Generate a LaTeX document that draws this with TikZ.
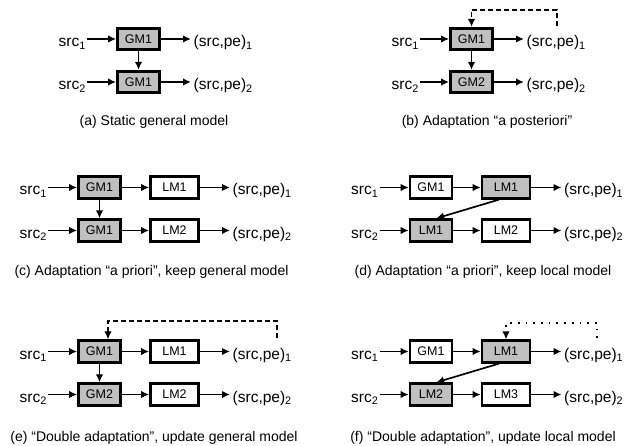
\documentclass[tikz,border=0pt]{standalone}
\usepackage{fontspec}
\setmainfont{Liberation Sans}
\usetikzlibrary{arrows.meta,calc}

\definecolor{boxgray}{RGB}{192,192,192}

\begin{document}
\begin{tikzpicture}[x=1pt,y=-1pt,
  mbox/.style={draw,line width=2.7pt,minimum height=21.5pt,inner sep=0pt,font=\fontsize{12.5}{15}\selectfont},
  stage1/.style={mbox,minimum width=42pt},
  stage2/.style={mbox,minimum width=48pt},
  upd/.style={fill=boxgray},
  lbl/.style={inner ysep=0pt,inner xsep=1pt,font=\fontsize{15.5}{18}\selectfont},
  outlbl/.style={lbl,inner xsep=2.5pt},
  subcap/.style={font=\fontsize{14}{16}\selectfont},
  flow/.style={line width=1.7pt,-{Latex[length=8pt,width=7.5pt]}},
  fb/.style={flow,dash pattern=on 5pt off 3pt},
  fbdot/.style={flow,dash pattern=on 1.7pt off 6pt}]
  \useasboundingbox (0,0) rectangle (628,446);

  % (a) static general model
  \node[stage1,upd] (a-gm1) at (138.5,39) {GM1};
  \node[stage1,upd] (a-gm2) at (138.5,82) {GM1};
  \node[lbl,anchor=base east] (a-src1) at (87,46.5) {src\textsubscript{1}};
  \node[lbl,anchor=base east] (a-src2) at (87,89.5) {src\textsubscript{2}};
  \node[outlbl,anchor=base west] (a-out1) at (191,46.5) {(src,pe)\textsubscript{1}};
  \node[outlbl,anchor=base west] (a-out2) at (191,89.5) {(src,pe)\textsubscript{2}};
  \draw[flow] (a-src1.east |- a-gm1) -- (a-gm1);
  \draw[flow] (a-src2.east |- a-gm2) -- (a-gm2);
  \draw[flow] (a-gm1) -- (a-gm1 -| a-out1.west);
  \draw[flow] (a-gm2) -- (a-gm2 -| a-out2.west);
  \draw[flow] (a-gm1) -- (a-gm2);
  \node[subcap] (a-cap) at (154,122) {(a) Static general model};

  % (b) adaptation a posteriori
  \begin{scope}[shift={(333,0)}]
    \node[stage1,upd] (b-gm1) at (138.5,39) {GM1};
    \node[stage1,upd] (b-gm2) at (138.5,82) {GM2};
    \node[lbl,anchor=base east] (b-src1) at (87,46.5) {src\textsubscript{1}};
    \node[lbl,anchor=base east] (b-src2) at (87,89.5) {src\textsubscript{2}};
    \node[outlbl,anchor=base west] (b-out1) at (191,46.5) {(src,pe)\textsubscript{1}};
    \node[outlbl,anchor=base west] (b-out2) at (191,89.5) {(src,pe)\textsubscript{2}};
    \coordinate (b-fb) at (224,26);
    \coordinate (b-fbtop) at (138.5,10);
    \draw[flow] (b-src1.east |- b-gm1) -- (b-gm1);
    \draw[flow] (b-src2.east |- b-gm2) -- (b-gm2);
    \draw[flow] (b-gm1) -- (b-gm1 -| b-out1.west);
    \draw[flow] (b-gm2) -- (b-gm2 -| b-out2.west);
    \draw[flow] (b-gm1) -- (b-gm2);
    \draw[fb] (b-fb) |- (b-fbtop) -- (b-fbtop |- b-gm1.north);
    \node[subcap] (b-cap) at (154,122) {(b) Adaptation ``a posteriori''};
  \end{scope}

  % (c) a priori, keep general model
  \node[stage1,upd] (c-gm1) at (99.5,187.5) {GM1};
  \node[stage2] (c-lm1) at (174.5,187.5) {LM1};
  \node[stage1,upd] (c-gm2) at (99.5,230.5) {GM1};
  \node[stage2] (c-lm2) at (174.5,230.5) {LM2};
  \node[lbl,anchor=base east] (c-src1) at (48,195) {src\textsubscript{1}};
  \node[lbl,anchor=base east] (c-src2) at (48,238) {src\textsubscript{2}};
  \node[outlbl,anchor=base west] (c-out1) at (230,195) {(src,pe)\textsubscript{1}};
  \node[outlbl,anchor=base west] (c-out2) at (230,238) {(src,pe)\textsubscript{2}};
  \draw[flow] (c-src1.east |- c-gm1) -- (c-gm1);
  \draw[flow] (c-src2.east |- c-gm2) -- (c-gm2);
  \draw[flow] (c-gm1) -- (c-lm1);
  \draw[flow] (c-gm2) -- (c-lm2);
  \draw[flow] (c-lm1) -- (c-lm1 -| c-out1.west);
  \draw[flow] (c-lm2) -- (c-lm2 -| c-out2.west);
  \draw[flow] (c-gm1) -- (c-gm2);
  \node[subcap] (c-cap) at (151.5,272) {(c) Adaptation ``a priori'', keep general model};

  % (d) a priori, keep local model
  \begin{scope}[shift={(331.5,0)}]
    \node[stage1] (d-gm1) at (99.5,187.5) {GM1};
    \node[stage2,upd] (d-lm1) at (174.5,187.5) {LM1};
    \node[stage1,upd] (d-lm1b) at (99.5,230.5) {LM1};
    \node[stage2] (d-lm2) at (174.5,230.5) {LM2};
    \node[lbl,anchor=base east] (d-src1) at (48,195) {src\textsubscript{1}};
    \node[lbl,anchor=base east] (d-src2) at (48,238) {src\textsubscript{2}};
    \node[outlbl,anchor=base west] (d-out1) at (230,195) {(src,pe)\textsubscript{1}};
    \node[outlbl,anchor=base west] (d-out2) at (230,238) {(src,pe)\textsubscript{2}};
    \draw[flow] (d-src1.east |- d-gm1) -- (d-gm1);
    \draw[flow] (d-src2.east |- d-lm1b) -- (d-lm1b);
    \draw[flow] (d-gm1) -- (d-lm1);
    \draw[flow] (d-lm1b) -- (d-lm2);
    \draw[flow] (d-lm1) -- (d-lm1 -| d-out1.west);
    \draw[flow] (d-lm2) -- (d-lm2 -| d-out2.west);
    \draw[flow] (d-lm1.-120) -- (d-lm1b.67);
    \node[subcap] (d-cap) at (151.5,272) {(d) Adaptation ``a priori'', keep local model};
  \end{scope}

  % (e) double adaptation, update general model
  \node[stage1,upd] (e-gm1) at (99.5,351.5) {GM1};
  \node[stage2] (e-lm1) at (174.5,351.5) {LM1};
  \node[stage1,upd] (e-gm2) at (99.5,394.5) {GM2};
  \node[stage2] (e-lm2) at (174.5,394.5) {LM2};
  \node[lbl,anchor=base east] (e-src1) at (48,359) {src\textsubscript{1}};
  \node[lbl,anchor=base east] (e-src2) at (48,402) {src\textsubscript{2}};
  \node[outlbl,anchor=base west] (e-out1) at (230,359) {(src,pe)\textsubscript{1}};
  \node[outlbl,anchor=base west] (e-out2) at (230,402) {(src,pe)\textsubscript{2}};
  \coordinate (e-fb) at (277,338);
  \coordinate (e-fbtop) at (108,321);
  \draw[flow] (e-src1.east |- e-gm1) -- (e-gm1);
  \draw[flow] (e-src2.east |- e-gm2) -- (e-gm2);
  \draw[flow] (e-gm1) -- (e-lm1);
  \draw[flow] (e-gm2) -- (e-lm2);
  \draw[flow] (e-lm1) -- (e-lm1 -| e-out1.west);
  \draw[flow] (e-lm2) -- (e-lm2 -| e-out2.west);
  \draw[flow] (e-gm1) -- (e-gm2);
  \draw[fb] (e-fb) |- (e-fbtop) -- (e-fbtop |- e-gm1.north);
  \node[subcap] (e-cap) at (154,438) {(e) ``Double adaptation'', update general model};

  % (f) double adaptation, update local model
  \begin{scope}[shift={(331.5,0)}]
    \node[stage1] (f-gm1) at (99.5,351.5) {GM1};
    \node[stage2,upd] (f-lm1) at (174.5,351.5) {LM1};
    \node[stage1,upd] (f-lm2) at (99.5,394.5) {LM2};
    \node[stage2] (f-lm3) at (174.5,394.5) {LM3};
    \node[lbl,anchor=base east] (f-src1) at (48,359) {src\textsubscript{1}};
    \node[lbl,anchor=base east] (f-src2) at (48,402) {src\textsubscript{2}};
    \node[outlbl,anchor=base west] (f-out1) at (230,359) {(src,pe)\textsubscript{1}};
    \node[outlbl,anchor=base west] (f-out2) at (230,402) {(src,pe)\textsubscript{2}};
    \coordinate (f-fb) at (265.5,338);
    \coordinate (f-fbtop) at (174.5,323);
    \draw[flow] (f-src1.east |- f-gm1) -- (f-gm1);
    \draw[flow] (f-src2.east |- f-lm2) -- (f-lm2);
    \draw[flow] (f-gm1) -- (f-lm1);
    \draw[flow] (f-lm2) -- (f-lm3);
    \draw[flow] (f-lm1) -- (f-lm1 -| f-out1.west);
    \draw[flow] (f-lm3) -- (f-lm3 -| f-out2.west);
    \draw[flow] (f-lm1.-120) -- (f-lm2.67);
    \draw[fbdot] (f-fb) |- (f-fbtop) -- (f-fbtop |- f-lm1.north);
    \node[subcap] (f-cap) at (151.5,438) {(f) ``Double adaptation'', update local model};
  \end{scope}
\end{tikzpicture}
\end{document}
